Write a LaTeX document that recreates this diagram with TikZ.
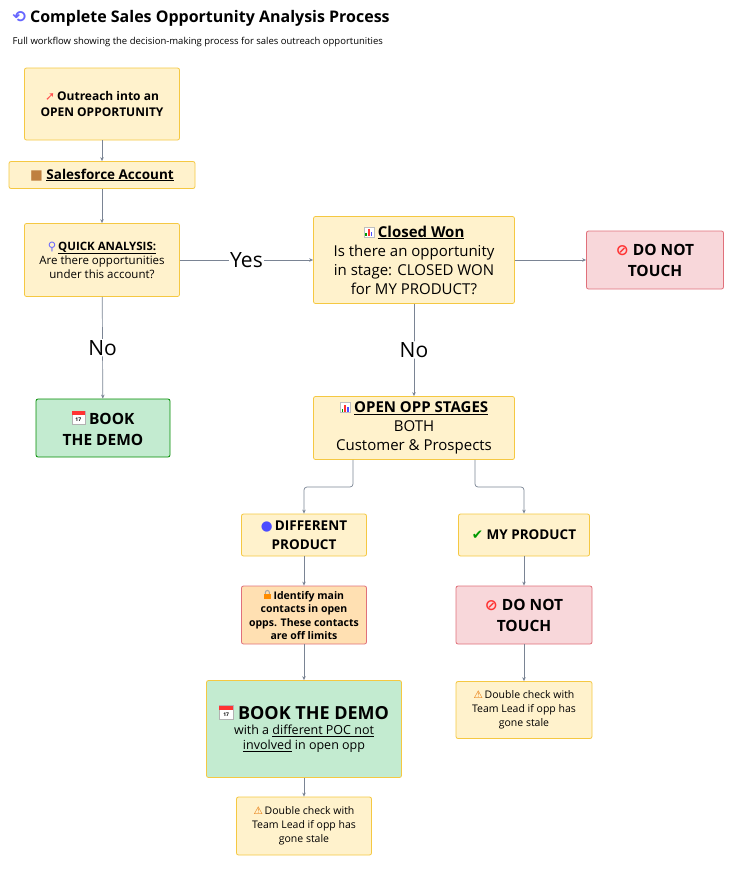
\documentclass[tikz,border=0pt]{standalone}
\usepackage{fontspec}
\setmainfont{Open Sans}
\newfontfamily\dejavu{DejaVu Sans}
\usetikzlibrary{arrows.meta}
\definecolor{yfill}{HTML}{FFF2CC}\definecolor{ydraw}{HTML}{F5C842}
\definecolor{rfill}{HTML}{F8D7DA}\definecolor{rdraw}{HTML}{E0707A}
\definecolor{gfill}{HTML}{C3EBD0}\definecolor{gdraw}{HTML}{F5C842}
\definecolor{ofill}{HTML}{FFE0B2}
\definecolor{arr}{HTML}{7A8494}
\tikzset{icon/.style={x=1pt,y=1pt,rounded corners=0pt,line width=0.4pt,every node/.style={minimum size=0pt,minimum width=0pt,minimum height=0pt,inner sep=0pt,draw=none,fill=none}}}
\newcommand{\ichart}{\tikz[baseline=0pt,icon]{\fill[white,draw=gray!50](0,0)rectangle(10pt,10pt);\fill[green!60!black](1.5pt,1pt)rectangle(3pt,4pt);\fill[red!80](4.3pt,1pt)rectangle(5.8pt,8pt);\fill[blue!70](7pt,1pt)rectangle(8.5pt,5.5pt);}}
\newcommand{\ical}[1]{\tikz[baseline=0pt,icon]{\fill[white,draw=gray!60](0,0)rectangle(#1,#1);\fill[red!80](0,0.72*#1)rectangle(#1,#1);\node[font=\fontsize{5}{5}\selectfont\bfseries] at (0.5*#1,0.35*#1){17};}}
\newcommand{\ilock}{\tikz[baseline=0pt,icon]{\draw[gray!70,line width=1pt](2pt,5pt)--(2pt,7pt)arc(180:0:2pt)--(6pt,5pt);\fill[orange!90!yellow](0.5pt,0)rectangle(7.5pt,5.5pt);}}
\newcommand{\ino}{{\dejavu\color{red!80}⊘}}
\newcommand{\iwarn}{{\dejavu\color{orange!90!black}⚠}}
\begin{document}
\begin{tikzpicture}[x=1pt,y=-1pt,
 box/.style={draw=ydraw,fill=yfill,rounded corners=2pt,line width=0.8pt,align=center,inner sep=2pt,font=\fontsize{12}{15}\selectfont},
 red/.style={box,draw=rdraw,fill=rfill},
 grn/.style={box,draw=gdraw,fill=gfill},
 ar/.style={draw=arr,line width=0.7pt,-{Stealth[length=4pt,width=3.5pt]},rounded corners=3pt},
 lab/.style={font=\fontsize{21}{21}\selectfont,fill=white,inner sep=1pt}]
\useasboundingbox (0,0) rectangle (742,870);
\node[anchor=west,font=\fontsize{16}{18}\selectfont\bfseries] (title) at (9,18) {{\dejavu\color{blue!60}⟲}\ Complete Sales Opportunity Analysis Process};
\node[anchor=west,font=\fontsize{9.5}{11}\selectfont] (sub) at (9,42) {Full workflow showing the decision-making process for sales outreach opportunities};
\node[box,minimum width=155,minimum height=72,font=\fontsize{12}{16}\selectfont\bfseries] (out) at (102,104) {{\dejavu\color{red!70}➚}\,Outreach into an\\OPEN OPPORTUNITY};
\node[box,minimum width=186,minimum height=27,font=\fontsize{13.5}{15}\selectfont\bfseries] (sf) at (102,175) {{\dejavu\color{brown}■}\ \underline{Salesforce Account}};
\node[box,minimum width=155,minimum height=73,font=\fontsize{11.5}{14}\selectfont] (qa) at (102,260) {{\dejavu\color{blue!60}⚲}\,\textbf{\underline{QUICK ANALYSIS:}}\\Are there opportunities\\under this account?};
\node[box,minimum width=201,minimum height=87,font=\fontsize{15}{19}\selectfont] (cw) at (414,260) {\ichart\ \textbf{\underline{Closed Won}}\\Is there an opportunity\\in stage: CLOSED WON\\for MY PRODUCT?};
\node[red,minimum width=137,minimum height=58,font=\fontsize{15.5}{21}\selectfont\bfseries] (dnt1) at (655,260) {\ino\ DO NOT\\TOUCH};
\node[grn,minimum width=134,minimum height=58,font=\fontsize{15.5}{21}\selectfont\bfseries,draw=green!55!black] (bd1) at (103,428) {\ical{13pt}\ BOOK\\THE DEMO};
\node[box,minimum width=201,minimum height=63,font=\fontsize{15}{19}\selectfont] (os) at (414,428) {\ichart\ \textbf{\underline{OPEN OPP STAGES}}\\BOTH\\Customer \& Prospects};
\node[box,minimum width=125,minimum height=42,font=\fontsize{13.5}{19}\selectfont\bfseries] (dp) at (304,535) {{\dejavu\color{blue!70}●}\,DIFFERENT\\PRODUCT};
\node[box,minimum width=131,minimum height=42,font=\fontsize{13.5}{16}\selectfont\bfseries] (mp) at (524,535) {{\dejavu\color{green!60!black}✔}\ MY PRODUCT};
\node[red,fill=ofill,minimum width=125,minimum height=58,font=\fontsize{10.5}{13.5}\selectfont\bfseries] (id) at (304,615) {\ilock\ Identify main\\contacts in open\\opps. These contacts\\are off limits};
\node[red,minimum width=136,minimum height=58,font=\fontsize{15.5}{21}\selectfont\bfseries] (dnt2) at (524,615) {\ino\ DO NOT\\TOUCH};
\node[grn,minimum width=195,minimum height=97,font=\fontsize{12.5}{15}\selectfont] (bd2) at (304,729) {{\fontsize{18}{22}\selectfont\bfseries\ical{14pt}\ BOOK THE DEMO}\\with a \underline{different POC not}\\\underline{involved} in open opp};
\node[box,minimum width=135,minimum height=58,font=\fontsize{10.5}{14}\selectfont] (dc1) at (304,826) {\iwarn\,Double check with\\Team Lead if opp has\\gone stale};
\node[box,minimum width=136,minimum height=57,font=\fontsize{10.5}{14}\selectfont] (dc2) at (524,710) {\iwarn\,Double check with\\Team Lead if opp has\\gone stale};
\draw[ar] (out) -- (sf);
\draw[ar] (sf) -- (qa);
\draw[ar] (qa) -- node[lab]{Yes} (cw);
\draw[ar] (cw) -- (dnt1);
\draw[ar] (qa) -- node[lab,pos=0.5]{No} (bd1);
\draw[ar] (cw) -- node[lab,pos=0.5]{No} (os);
\draw[ar] (os.south -| 353,0) |- (304,487) -- (dp.north);
\draw[ar] (os.south -| 475,0) |- (524,487) -- (mp.north);
\draw[ar] (dp) -- (id);
\draw[ar] (id) -- (bd2);
\draw[ar] (bd2) -- (dc1);
\draw[ar] (mp) -- (dnt2);
\draw[ar] (dnt2) -- (dc2);
\end{tikzpicture}
\end{document}
